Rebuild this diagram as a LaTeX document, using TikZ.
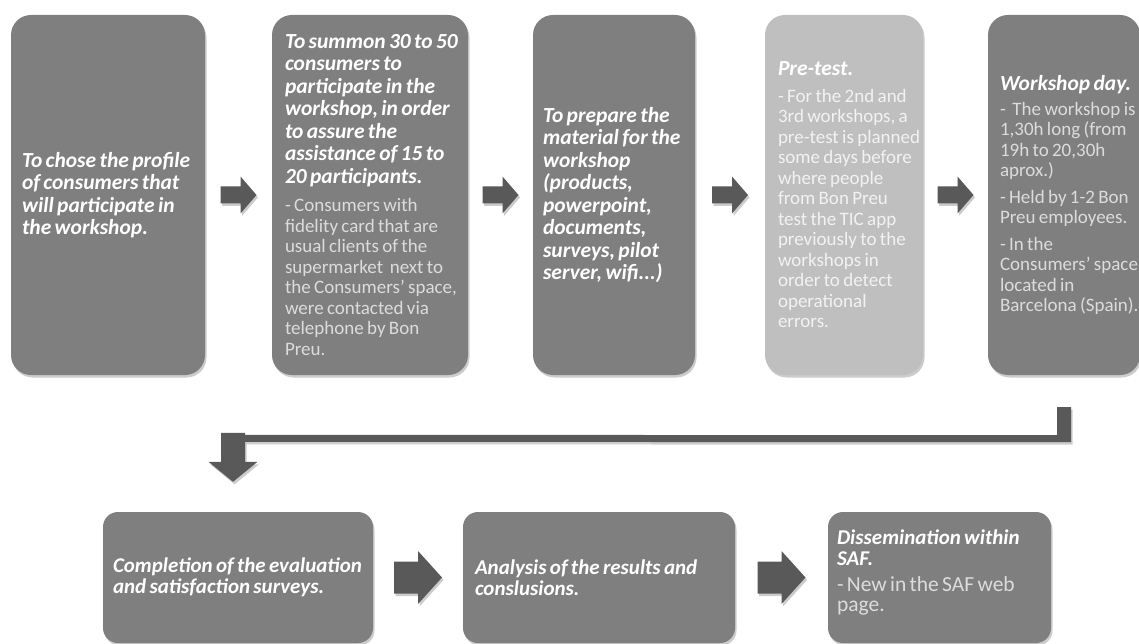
\documentclass[tikz,border=0pt]{standalone}
\usepackage{fontspec}
\setmainfont{Carlito}
\usetikzlibrary{calc,shadows}
\definecolor{boxgray}{RGB}{127,127,127}
\definecolor{lightbox}{RGB}{191,191,191}
\definecolor{arrowgray}{RGB}{89,89,89}
\definecolor{bodytext}{RGB}{220,220,220}
\definecolor{lightbody}{RGB}{242,242,242}
% fonts for the stage boxes (top row) and the closing boxes (bottom row)
\newcommand\hdtext{\fontsize{21.5}{22.5}\selectfont\bfseries\itshape}
\newcommand\bdtext{\fontsize{19}{20.5}\selectfont}
\newcommand\hdlow{\fontsize{21}{20.5}\selectfont\bfseries\itshape}
\newcommand\bdlow{\fontsize{21.5}{20}\selectfont}
\begin{document}
\begin{tikzpicture}[x=1pt,y=-1pt,
  softshadow/.style={drop shadow={opacity=0.2, shadow xshift=1.5pt, shadow yshift=-2.5pt, fill=black}},
  stagebox/.style={rectangle, rounded corners=20pt, fill=boxgray, inner sep=0pt,
    minimum height=360pt, softshadow},
  lowbox/.style={rectangle, rounded corners=15pt, fill=boxgray, inner sep=0pt,
    minimum height=131pt, softshadow},
  txt/.style={anchor=west, text width=190pt, align=left, inner sep=0pt, text=white},
  rarrowA/.pic={\fill[arrowgray, softshadow] (-18,-8.5) -- (2,-8.5) -- (2,-18.5) -- (18,0)
    -- (2,18.5) -- (2,8.5) -- (-18,8.5) -- cycle;},
  rarrowB/.pic={\fill[arrowgray, softshadow] (-24,-16) -- (0,-16) -- (0,-26.5) -- (24,0)
    -- (0,26.5) -- (0,16) -- (-24,16) -- cycle;}]

\fill[white] (0,0) rectangle (1139,644);
\useasboundingbox (0,0) rectangle (1139,644);

% top row: preparation stages
\node[stagebox, minimum width=194pt] (b1) at (108,195) {};
\node[stagebox, minimum width=196pt] (b2) at (370,195) {};
\node[stagebox, minimum width=162pt] (b3) at (614,195) {};
\node[stagebox, minimum width=158pt, fill=lightbox] (b4) at (844,195) {};
\node[stagebox, minimum width=152pt] (b5) at (1064,195) {};

% bottom row: after the workshop
\node[lowbox, minimum width=270pt] (b6) at (238,577.5) {};
\node[lowbox, minimum width=272pt] (b7) at (599,577.5) {};
\node[lowbox, minimum width=223pt] (b8) at (939.5,577.5) {};

% texts
\node[txt] (t1) at ($(b1.west)+(11,0)$) {\hdtext To chose the profile\\of consumers that\\will participate in\\the workshop.\par};

\node[txt] (t2) at ($(b2.west)+(13,0)$) {{\hdtext To summon 30 to 50\\consumers to\\participate in the\\workshop, in order\\to assure the\\assistance of 15 to\\20 participants.\par}\vspace{8pt}{\bdtext\color{bodytext}- Consumers with\\fidelity card that are\\usual clients of the\\supermarket \ next to\\the Consumers' space,\\were contacted via\\telephone by Bon\\Preu.\par}};

\node[txt] (t3) at ($(b3.west)+(10,0)$) {\hdtext To prepare the\\material for the\\workshop\\(products,\\powerpoint,\\documents,\\surveys, pilot\\server, wifi...)\par};

\node[txt] (t4) at ($(b4.west)+(13,0)$) {{\hdtext Pre-test.\par}\vspace{6pt}{\bdtext\color{lightbody}- For the 2nd and\\3rd workshops, a\\pre-test is planned\\some days before\\where people\\from Bon Preu\\test the TIC app\\previously to the\\workshops in\\order to detect\\operational\\errors.\par}};

\node[txt] (t5) at ($(b5.west)+(12,0)$) {{\hdtext Workshop day.\par}\vspace{4pt}{\bdtext\color{bodytext}- \ The workshop is\\1,30h long (from\\19h to 20,30h\\aprox.)\\[6pt]- Held by 1-2 Bon\\Preu employees.\\[6pt]- In the\\Consumers' space\\located in\\Barcelona (Spain).\par}};

\node[txt, text width=260pt] (t6) at ($(b6.west)+(10,0)$) {\hdlow Completion of the evaluation\\and satisfaction surveys.\par};

\node[txt, text width=260pt] (t7) at ($(b7.west)+(12,0)$) {\hdlow Analysis of the results and\\conslusions.\par};

\node[txt, text width=210pt] (t8) at ($(b8.west)+(9,-5)$) {{\hdlow Dissemination within\\SAF.\par}\vspace{6pt}{\bdlow\color{bodytext}- New in the SAF web\\page.\par}};

% block arrows between consecutive stages
\pic at ($(b1.east)!0.5!(b2.west)$) {rarrowA};
\pic at ($(b2.east)!0.5!(b3.west)$) {rarrowA};
\pic at ($(b3.east)!0.5!(b4.west)$) {rarrowA};
\pic at ($(b4.east)!0.5!(b5.west)$) {rarrowA};
\pic at ($(b6.east)!0.5!(b7.west)$) {rarrowB};
\pic at ($(b7.east)!0.5!(b8.west)$) {rarrowB};

% bent connector from the workshop day down to the bottom row
\coordinate (k1) at ($(b5.south)+(0,32)$);
\coordinate (k3) at ($(b6.north)+(-5,-30)$);
\fill[arrowgray, softshadow]
  ($(k3)+(-12,-49)$) -- ($(k3)+(12,-49)$) -- ($(k3)+(12,-47)$) -- ($(k1)+(-7,28)$)
  -- ($(k1)+(-7,0)$) -- ($(k1)+(7,0)$) -- ($(k1)+(7,35)$) -- ($(k3)+(12,-40)$)
  -- ($(k3)+(12,-20)$) -- ($(k3)+(24.5,-20)$) -- (k3) -- ($(k3)+(-24.5,-20)$)
  -- ($(k3)+(-12,-20)$) -- cycle;
\end{tikzpicture}
\end{document}
